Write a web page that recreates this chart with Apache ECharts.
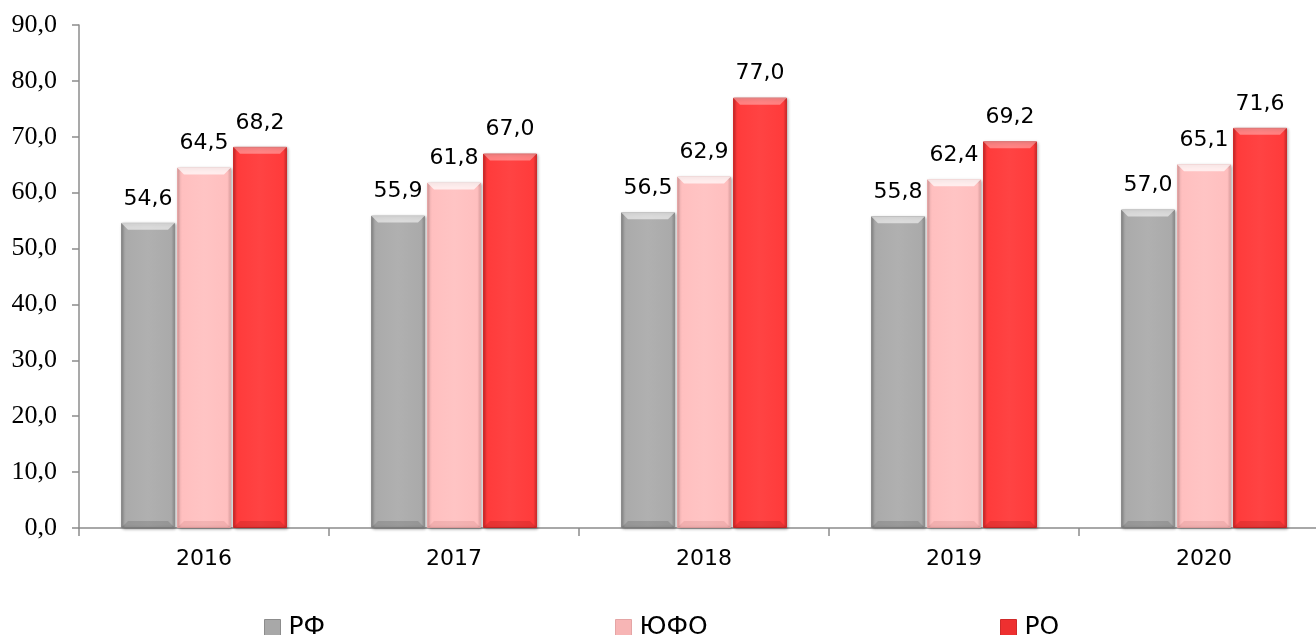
<!DOCTYPE html>
<html><head><meta charset="utf-8">
<script src="https://cdn.jsdelivr.net/npm/echarts@6/dist/echarts.min.js"></script>
<style>html,body{margin:0;padding:0;background:#fff}#c{width:1316px;height:635px}</style>
</head><body><div id="c"></div>
<script>
const categories = ['2016','2017','2018','2019','2020'];
const seriesNames = ['РФ','ЮФО','РО'];
const rf = [54.6, 55.9, 56.5, 55.8, 57.0];
const ufo = [64.5, 61.8, 62.9, 62.4, 65.1];
const ro = [68.2, 67.0, 77.0, 69.2, 71.6];
const yTicks = [0,10,20,30,40,50,60,70,80,90];

const fmt = v => Number(v).toFixed(1).replace('.', ',');
function grad(edge, mid, light){
  return new echarts.graphic.LinearGradient(0,0,1,0,[
    {offset:0,color:edge},{offset:0.07,color:mid},{offset:0.5,color:light},{offset:0.93,color:mid},{offset:1,color:edge}
  ]);
}
const styles = [
  {edge:'#8c8c8c', mid:'#aaaaaa', light:'#b0b0b0', base:'#a8a8a8', hi:'rgba(255,255,255,0.55)', lo:'rgba(0,0,0,0.12)'},
  {edge:'#e4a5a5', mid:'#ffbfbf', light:'#ffc4c4', base:'#f7b5b5', hi:'rgba(255,255,255,0.7)', lo:'rgba(150,60,60,0.12)'},
  {edge:'#cf2a2a', mid:'#ff3b3b', light:'#ff4343', base:'#ee3030', hi:'rgba(255,255,255,0.35)', lo:'rgba(100,0,0,0.15)'}
];
const data = [rf, ufo, ro];
const SANS = 'DejaVu Sans, Liberation Sans, Arial';
const BW = 54, GAP = 2, BEV = 7;
const chart = echarts.init(document.getElementById('c'), null, {renderer:'canvas'});
const series = seriesNames.map((n,i)=>({
  name:n, type:'bar', data:data[i], barWidth:BW, barGap:(GAP/BW*100)+'%',
  itemStyle:{color:grad(styles[i].edge,styles[i].mid,styles[i].light), borderColor:styles[i].edge, borderWidth:1,
    shadowColor:'rgba(0,0,0,0.3)', shadowBlur:3, shadowOffsetX:1, shadowOffsetY:1},
  label:{show:true, position:'top', distance:13, formatter:p=>fmt(p.value), fontFamily:SANS, fontSize:22, color:'#000'}
}));
// bevel overlays
seriesNames.forEach((n,i)=>{
  series.push({
    name:'bevel'+i, type:'custom', silent:true, z:5,
    data:data[i].map((v,k)=>[k,v]),
    encode:{x:0,y:1},
    renderItem:(params, api)=>{
      const top = api.coord([api.value(0), api.value(1)]);
      const bot = api.coord([api.value(0), 0]);
      const cx = top[0] + (i-1)*(BW+GAP);
      const x0 = cx - BW/2, x1 = cx + BW/2, y0 = top[1], y1 = bot[1];
      return {type:'group', children:[
        {type:'polygon', shape:{points:[[x0,y0],[x1,y0],[x1-BEV,y0+BEV],[x0+BEV,y0+BEV]]}, style:{fill:styles[i].hi}},
        {type:'polygon', shape:{points:[[x0,y1],[x1,y1],[x1-BEV,y1-BEV],[x0+BEV,y1-BEV]]}, style:{fill:styles[i].lo}}
      ]};
    }
  });
});
const legendPos = [264, 615, 1000];
chart.setOption({
  animation:false,
  grid:{left:79, top:25, right:-13, bottom:107, containLabel:false, outerBoundsMode:'none'},
  legend: seriesNames.map((n,i)=>({
    data:[{name:n, icon:'rect', itemStyle:{color:styles[i].base, borderColor:styles[i].edge, borderWidth:1}}],
    left:legendPos[i], top:615, itemWidth:16, itemHeight:16, itemGap:4, padding:0,
    textStyle:{fontFamily:SANS, fontSize:25, color:'#000', padding:[0,0,0,3]}
  })),
  xAxis:{type:'category', data:categories,
    axisLine:{lineStyle:{color:'#8c8c8c', width:1.5}},
    axisTick:{show:true, length:8, lineStyle:{color:'#8c8c8c', width:1.5}},
    axisLabel:{fontFamily:SANS, fontSize:22, color:'#000', margin:20}},
  yAxis:{type:'value', min:yTicks[0], max:yTicks[yTicks.length-1], interval:10,
    axisLine:{show:true, lineStyle:{color:'#8c8c8c', width:1.5}},
    axisTick:{show:true, length:7, lineStyle:{color:'#8c8c8c', width:1.5}},
    splitLine:{show:false},
    axisLabel:{formatter:v=>fmt(v), fontFamily:'Liberation Serif, Times New Roman', fontSize:26, color:'#000', margin:22}},
  series
});
</script></body></html>
